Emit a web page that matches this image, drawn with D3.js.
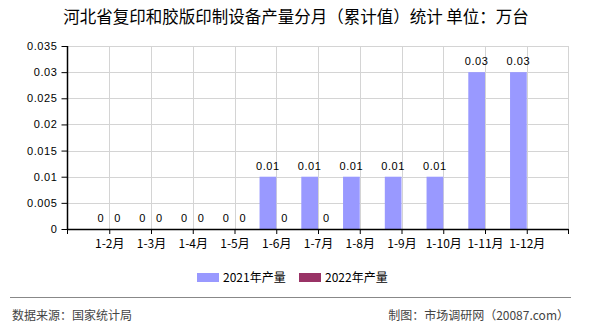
<!DOCTYPE html>
<html lang="zh">
<head>
<meta charset="utf-8">
<title>河北省复印和胶版印制设备产量分月</title>
<style>
  body { margin: 0; background: #fff; overflow: hidden; font-family: "Noto Sans CJK SC", sans-serif; }
  .grid line { stroke: #d4d4d4; stroke-width: 1; }
  .num { font-family: "Liberation Sans", Arial, sans-serif; font-size: 11px; letter-spacing: 0.6px; fill: #000; }
</style>
</head>
<body>
<div id="chart"></div>
<script src="https://cdn.jsdelivr.net/npm/d3@7/dist/d3.min.js"></script>
<script>
var months = ["1-2月", "1-3月", "1-4月", "1-5月", "1-6月", "1-7月", "1-8月", "1-9月", "1-10月", "1-11月", "1-12月"];
var output2021 = [0, 0, 0, 0, 0.01, 0.01, 0.01, 0.01, 0.01, 0.03, 0.03];
var output2022 = [0, 0, 0, 0, 0, 0, null, null, null, null, null];
var yTicks = [0, 0.005, 0.01, 0.015, 0.02, 0.025, 0.03, 0.035];
var seriesNames = ["2021年产量", "2022年产量"];
var seriesColors = ["#9999ff", "#993366"];

var W = 590, H = 330;
var pLeft = 67.5, pRight = 568.5, pTop = 46, pBottom = 229;

var svg = d3.select("#chart").append("svg")
    .attr("width", W)
    .attr("height", H);

var x = d3.scalePoint().domain(months).range([pLeft, pRight]).padding(1);
var y = d3.scaleLinear().domain([0, 0.035]).range([pBottom, pTop]);
var bw = x.step() * 0.4;

// title
svg.append("text")
    .attr("x", 296).attr("y", 23)
    .attr("text-anchor", "middle")
    .style("font-size", "16.5px")
    .style("fill", "#000")
    .text("河北省复印和胶版印制设备产量分月（累计值）统计 单位：万台");

// grid
var grid = svg.append("g").attr("class", "grid");
yTicks.forEach(function(t) {
  grid.append("line")
      .attr("x1", pLeft).attr("x2", pRight)
      .attr("y1", Math.round(y(t)) + 0.5).attr("y2", Math.round(y(t)) + 0.5);
});
months.concat(["end"]).forEach(function(m) {
  var xx = m == "end" ? pRight : Math.round(x(m)) + 0.5;
  grid.append("line")
      .attr("x1", xx).attr("x2", xx)
      .attr("y1", pTop).attr("y2", pBottom);
});

// bars
var sets = [output2021, output2022];
sets.forEach(function(vals, s) {
  months.forEach(function(m, i) {
    var v = vals[i];
    if (v === null) return;
    var bx = s == 0 ? x(m) - bw : x(m);
    svg.append("rect")
        .attr("x", bx).attr("y", y(v))
        .attr("width", bw).attr("height", pBottom - y(v))
        .style("fill", seriesColors[s]);
    svg.append("text")
        .attr("class", "num")
        .attr("x", bx + bw / 2)
        .attr("y", y(v) - 7)
        .attr("text-anchor", "middle")
        .text(v);
  });
});

// y axis
var yAxis = svg.append("g")
    .attr("transform", "translate(" + pLeft + ",0)")
    .call(d3.axisLeft(y).tickValues(yTicks).tickSize(6).tickPadding(4).tickFormat(function(d) { return d; }));
yAxis.selectAll("text").attr("class", "num").style("font-size", "11px").style("font-family", "Liberation Sans, Arial, sans-serif");
yAxis.select(".domain").attr("d", "M0," + pTop + "V" + pBottom);

// x axis
var xAxis = svg.append("g")
    .attr("transform", "translate(0," + pBottom + ")")
    .call(d3.axisBottom(x).tickSize(5).tickPadding(5));
xAxis.selectAll("text")
    .style("font-size", "12px")
    .style("font-family", "Noto Sans CJK SC, sans-serif")
    .style("fill", "#000");
xAxis.select(".domain").attr("d", "M" + pLeft + ",0.5H" + pRight);
[pLeft, pRight].forEach(function(xx) {
  xAxis.append("line").attr("x1", xx).attr("x2", xx).attr("y1", 0).attr("y2", 5).attr("stroke", "#000");
});
svg.selectAll(".domain").attr("stroke", "#000").attr("stroke-width", 1.5);

// legend
var lx = [197, 299];
seriesNames.forEach(function(n, i) {
  svg.append("rect")
      .attr("x", lx[i]).attr("y", 273)
      .attr("width", 22).attr("height", 9)
      .style("fill", seriesColors[i]);
  svg.append("text")
      .attr("x", lx[i] + 26).attr("y", 282)
      .style("font-size", "12px")
      .style("fill", "#000")
      .text(n);
});

// footer
svg.append("line")
    .attr("x1", 10).attr("x2", 571)
    .attr("y1", 297.5).attr("y2", 297.5)
    .attr("stroke", "#888").attr("stroke-width", 1);
svg.append("text")
    .attr("x", 12).attr("y", 320)
    .style("font-size", "12px").style("fill", "#444")
    .text("数据来源：国家统计局");
svg.append("text")
    .attr("x", 569).attr("y", 320)
    .attr("text-anchor", "end")
    .style("font-size", "12px").style("fill", "#444")
    .text("制图：市场调研网（20087.com）");
</script>
</body>
</html>
